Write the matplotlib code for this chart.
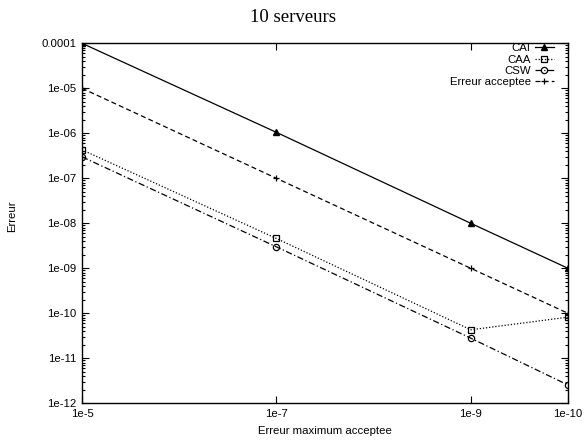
import matplotlib
matplotlib.use("Agg")
import matplotlib.pyplot as plt
from matplotlib.ticker import LogLocator, FixedLocator, FuncFormatter, NullFormatter, NullLocator

x_vals = [1e-5, 1e-7, 1e-9, 1e-10]
x_labels = ["1e-5", "1e-7", "1e-9", "1e-10"]
cai = [1e-4, 1.05e-6, 1.0e-8, 1e-9]
caa = [4.3e-7, 4.6e-9, 4.3e-11, 8.2e-11]
csw = [3.0e-7, 3.0e-9, 2.8e-11, 2.55e-12]
erreur_acceptee = [1e-5, 1e-7, 1e-9, 1e-10]

plt.rcParams['font.family'] = ['Liberation Sans', 'DejaVu Sans']

W, H = 587, 444
fig = plt.figure(figsize=(W / 100, H / 100), dpi=100)
L, R, T, B = 82, 568, 43.3, 403.3
ax = fig.add_axes([L / W, 1 - B / H, (R - L) / W, (B - T) / H])

fs = 8.2
lw = 0.9
ax.plot(x_vals, cai, color='black', linestyle='-', linewidth=lw, marker='^',
        markersize=4, markerfacecolor='black', label='CAI')
ax.plot(x_vals, caa, color='black', linestyle=(0, (1, 1.5)), linewidth=lw, marker='s',
        markersize=5, markerfacecolor='none', markeredgewidth=0.9, label='CAA')
ax.plot(x_vals, csw, color='black', linestyle=(0, (5, 2, 1, 2)), linewidth=lw, marker='o',
        markersize=4.5, markerfacecolor='none', markeredgewidth=0.9, label='CSW')
ax.plot(x_vals, erreur_acceptee, color='black', linestyle=(0, (4, 2.5)), linewidth=lw, marker='+',
        markersize=5, markeredgewidth=0.9, label='Erreur acceptee')

ax.set_xscale('log')
ax.set_yscale('log')
ax.set_xlim(1e-5, 1e-10)
ax.set_ylim(1e-12, 1e-4)

ax.xaxis.set_major_locator(FixedLocator(x_vals))
ax.set_xticklabels(x_labels)
ax.xaxis.set_minor_locator(NullLocator())
ax.yaxis.set_major_locator(LogLocator(base=10, numticks=20))
ax.yaxis.set_minor_locator(LogLocator(base=10, subs=[2, 3, 4, 5, 6, 7, 8, 9], numticks=20))
ax.yaxis.set_major_formatter(FuncFormatter(lambda v, p: '%g' % v))
ax.yaxis.set_minor_formatter(NullFormatter())
ax.xaxis.get_offset_text().set_visible(False)
ax.yaxis.get_offset_text().set_visible(False)

ax.tick_params(which='both', direction='in', top=True, right=True, labelsize=fs, width=0.8)
ax.tick_params(which='major', length=5, pad=4)
ax.tick_params(which='minor', length=2.5)
for s in ax.spines.values():
    s.set_linewidth(1.0)

ax.set_xlabel('Erreur maximum acceptee', fontsize=fs, labelpad=5)
ax.set_ylabel('Erreur', fontsize=fs)
ax.yaxis.set_label_coords((17 - L) / (R - L), 1 - (216 - T) / (B - T))
fig.text(0.5, 1 - 17 / H, '10 serveurs', fontsize=13.5, ha='center', va='center',
         family=['Liberation Serif', 'DejaVu Serif'])

leg = ax.legend(loc='upper right', frameon=False, markerfirst=False, fontsize=fs,
                handlelength=1.7, handletextpad=0.35, labelspacing=0.12,
                borderpad=0.0, borderaxespad=0.0,
                bbox_to_anchor=(1 - 14 / (R - L), 1.0))

fig.savefig('out.png', dpi=100)
